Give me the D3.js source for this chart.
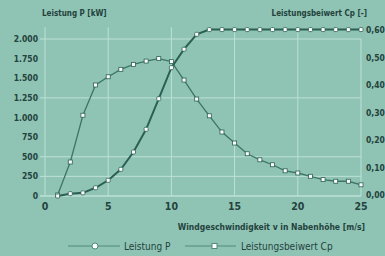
<!DOCTYPE html>
<html>
<head>
<meta charset="utf-8">
<script src="https://cdn.jsdelivr.net/npm/d3@7"></script>
<style>
  body { margin: 0; background: #8fc4b4; }
  svg { display: block; }
  text { font-family: "Liberation Sans Narrow", "DejaVu Sans Condensed", "Arial Narrow", sans-serif; fill: #24423d; }
  text.cond { font-family: "DejaVu Sans Condensed", "Liberation Sans Narrow", sans-serif; font-weight: bold; }
</style>
</head>
<body>
<svg id="chart"></svg>
<script>
// wind speed [m/s]
const windSpeed = [1, 2, 3, 4, 5, 6, 7, 8, 9, 10, 11, 12, 13, 14, 15, 16, 17, 18, 19, 20, 21, 22, 23, 24, 25];
// Leistung P [kW]
const powerKW = [0, 30, 40, 105, 200, 340, 560, 850, 1240, 1635, 1870, 2060, 2120, 2120, 2120, 2120, 2120, 2120, 2120, 2120, 2120, 2120, 2120, 2120, 2120];
// Leistungsbeiwert Cp [-]
const cpValues = [0, 0.12, 0.29, 0.40, 0.43, 0.457, 0.475, 0.487, 0.496, 0.485, 0.418, 0.349, 0.288, 0.229, 0.189, 0.15, 0.128, 0.11, 0.088, 0.08, 0.068, 0.056, 0.05, 0.05, 0.037];

const xTicks = [0, 5, 10, 15, 20, 25];
const pTicks = [0, 250, 500, 750, 1000, 1250, 1500, 1750, 2000];
const pGrid = [0, 250, 500, 1250, 2000];
const cpTicks = [0, 0.1, 0.2, 0.3, 0.4, 0.5, 0.6];

const width = 385, height = 256;

const svg = d3.select("#chart")
    .attr("width", width)
    .attr("height", height);

svg.append("rect")
    .attr("width", width).attr("height", height)
    .attr("fill", "#8fc4b4");

const x = d3.scaleLinear().domain([0, 25]).range([45, 361]);
const yP = d3.scaleLinear().domain([0, 2000]).range([196, 39]);
const yCp = d3.scaleLinear().domain([0, 0.6]).range([195, 30]);

const fmtP = d => d === 0 ? "0" : d3.format(",")(d).replace(",", ".");
const fmtCp = d => d3.format(".2f")(d).replace(".", ",");

// grid
svg.append("g").selectAll("line")
    .data(xTicks)
    .join("line")
    .attr("x1", d => x(d)).attr("x2", d => x(d))
    .attr("y1", d => d === 25 ? yP(2000) : yP(2150)).attr("y2", yP(0))
    .attr("stroke", "#bde0d6").attr("stroke-width", 1);

svg.append("g").selectAll("line")
    .data(pGrid)
    .join("line")
    .attr("x1", x(-0.4)).attr("x2", x(25))
    .attr("y1", d => yP(d)).attr("y2", d => yP(d))
    .attr("stroke", "#bde0d6").attr("stroke-width", d => d === 0 ? 1.5 : 1);

// left axis labels
svg.append("g").selectAll("text")
    .data(pTicks)
    .join("text")
    .attr("class", "cond")
    .attr("x", 38).attr("y", d => yP(d) + 3)
    .attr("text-anchor", "end")
    .style("font-size", "8.5px")
    .text(fmtP);

// right axis labels
svg.append("g").selectAll("text")
    .data(cpTicks)
    .join("text")
    .attr("class", "cond")
    .attr("x", 366).attr("y", d => yCp(d) + 3)
    .style("font-size", "8.5px")
    .text(fmtCp);

// x labels
svg.append("g").selectAll("text")
    .data(xTicks)
    .join("text")
    .attr("x", d => x(d)).attr("y", 210)
    .attr("text-anchor", "middle")
    .style("font-size", "10.5px").style("font-weight", "bold")
    .text(d => d);

// titles
svg.append("text")
    .attr("class", "cond")
    .attr("x", 42).attr("y", 16)
    .style("font-size", "8px")
    .text("Leistung P [kW]");

svg.append("text")
    .attr("class", "cond")
    .attr("x", 367).attr("y", 16)
    .attr("text-anchor", "end")
    .style("font-size", "8px")
    .text("Leistungsbeiwert Cp [-]");

svg.append("text")
    .attr("class", "cond")
    .attr("x", 365).attr("y", 230)
    .attr("text-anchor", "end")
    .style("font-size", "8.5px")
    .text("Windgeschwindigkeit v in Nabenhöhe [m/s]");

// lines
const cpData = windSpeed.map((v, i) => [v, cpValues[i]]);
const pData = windSpeed.map((v, i) => [v, powerKW[i]]);

svg.append("path")
    .datum(cpData)
    .attr("fill", "none")
    .attr("stroke", "#3c7567").attr("stroke-width", 1.3)
    .attr("d", d3.line().x(d => x(d[0])).y(d => yCp(d[1])));

svg.append("path")
    .datum(pData)
    .attr("fill", "none")
    .attr("stroke", "#2c5f54").attr("stroke-width", 2)
    .attr("d", d3.line().x(d => x(d[0])).y(d => yP(d[1])));

svg.append("g").selectAll("rect")
    .data(cpData)
    .join("rect")
    .attr("x", d => x(d[0]) - 2).attr("y", d => yCp(d[1]) - 2)
    .attr("width", 4).attr("height", 4)
    .attr("fill", "#ffffff").attr("stroke", "#2c5f54").attr("stroke-width", 0.8);

svg.append("g").selectAll("rect")
    .data(pData)
    .join("rect")
    .attr("x", d => x(d[0]) - 2).attr("y", d => yP(d[1]) - 2)
    .attr("width", 4).attr("height", 4)
    .attr("rx", 1)
    .attr("fill", "#ffffff").attr("stroke", "#2c5f54").attr("stroke-width", 0.8);

// legend
const legend = svg.append("g");
legend.append("line")
    .attr("x1", 68).attr("x2", 120).attr("y1", 246).attr("y2", 246)
    .attr("stroke", "#4f8a7c").attr("stroke-width", 1);
legend.append("circle")
    .attr("cx", 95).attr("cy", 246).attr("r", 3)
    .attr("fill", "#ffffff").attr("stroke", "#4f8a7c").attr("stroke-width", 1);
legend.append("text")
    .attr("x", 124).attr("y", 250)
    .style("font-size", "10px")
    .text("Leistung P");

legend.append("line")
    .attr("x1", 185).attr("x2", 236).attr("y1", 246).attr("y2", 246)
    .attr("stroke", "#4f8a7c").attr("stroke-width", 1);
legend.append("rect")
    .attr("x", 212).attr("y", 243.5).attr("width", 5).attr("height", 5)
    .attr("fill", "#ffffff").attr("stroke", "#4f8a7c").attr("stroke-width", 1);
legend.append("text")
    .attr("x", 241).attr("y", 250)
    .style("font-size", "10px")
    .text("Leistungsbeiwert Cp");
</script>
</body>
</html>
